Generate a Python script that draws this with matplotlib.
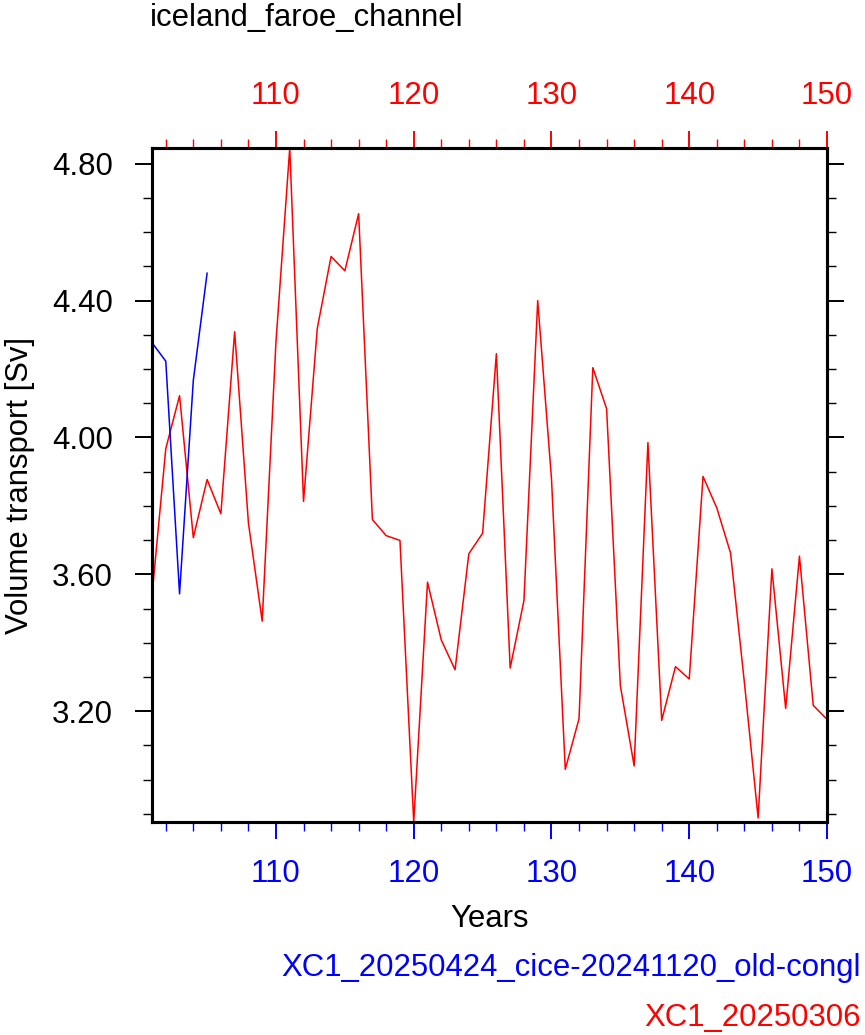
import numpy as np
from matplotlib import pyplot as plt
from matplotlib.ticker import MultipleLocator, FormatStrFormatter

plt.rcParams['font.family'] = ['Liberation Sans', 'DejaVu Sans']

# data
years = np.arange(101, 151)
red_vals = [3.538, 3.967, 4.122, 3.707, 3.877, 3.777, 4.309, 3.750, 3.463, 4.280,
            4.846, 3.813, 4.319, 4.529, 4.487, 4.654, 3.760, 3.713, 3.699, 2.876,
            3.577, 3.408, 3.321, 3.660, 3.720, 4.245, 3.326, 3.523, 4.400, 3.879,
            3.030, 3.178, 4.204, 4.084, 3.274, 3.040, 3.985, 3.173, 3.330, 3.294,
            3.886, 3.794, 3.662, 3.285, 2.888, 3.616, 3.208, 3.653, 3.217, 3.176]
blue_years = [101, 102, 103, 104, 105]
blue_vals = [4.277, 4.223, 3.543, 4.167, 4.480]

title = 'iceland_faroe_channel'
ylabel = 'Volume transport [Sv]'
xlabel = 'Years'
blue_name = 'XC1_20250424_cice-20241120_old-congl'
red_name = 'XC1_20250306'

W, H = 865, 1035
fig = plt.figure(figsize=(W / 100, H / 100), dpi=100)

# axes box in pixels: left 152, right 827, top 148, bottom 822
ax = fig.add_axes([152 / W, 1 - 822 / H, (827 - 152) / W, (822 - 148) / H])
ax.plot(years, red_vals, color='#ff0000', lw=1.1, zorder=2)
ax.plot(blue_years, blue_vals, color='#0000ff', lw=1.1, zorder=3)

ax.set_xlim(101, 150)
all_vals = red_vals + blue_vals
ax.set_ylim(min(all_vals), max(all_vals))

for s in ax.spines.values():
    s.set_linewidth(2.2)
    s.set_color('black')

# y axis, ticks out on both sides
ax.yaxis.set_major_locator(MultipleLocator(0.4))
ax.yaxis.set_minor_locator(MultipleLocator(0.1))
ax.yaxis.set_major_formatter(FormatStrFormatter('%.2f'))
ax.tick_params(axis='y', which='both', direction='out', left=True, right=True,
               labelright=False, colors='black', labelsize=22.5)
ax.tick_params(axis='y', which='major', length=12, width=1.4, pad=16)
ax.tick_params(axis='y', which='minor', length=6.5, width=1.0)

# bottom x axis (blue)
ax.xaxis.set_major_locator(MultipleLocator(10))
ax.xaxis.set_minor_locator(MultipleLocator(2))
ax.tick_params(axis='x', which='both', direction='out', top=False, bottom=True,
               color='#0000ff', labelcolor='#0000ff', labelsize=22.5)
ax.tick_params(axis='x', which='major', length=12, width=1.4, pad=15)
ax.tick_params(axis='x', which='minor', length=6.5, width=1.0)

# top x axis (red)
ax2 = ax.twiny()
ax2.set_xlim(101, 150)
ax2.xaxis.set_major_locator(MultipleLocator(10))
ax2.xaxis.set_minor_locator(MultipleLocator(2))
ax2.tick_params(axis='x', which='both', direction='out', top=True, bottom=False,
                color='#ff0000', labelcolor='#ff0000', labelsize=22.5)
ax2.tick_params(axis='x', which='major', length=12, width=1.4, pad=15)
ax2.tick_params(axis='x', which='minor', length=6.5, width=1.0)
for s in ax2.spines.values():
    s.set_linewidth(2.2)
    s.set_color('black')

# texts
fig.text(150 / W, 1 - 18 / H, title, ha='left', va='center', fontsize=22.4)
fig.text(20 / W, 1 - 485 / H, ylabel, ha='center', va='center', rotation=90, fontsize=22.4)
fig.text(489.5 / W, 1 - 919 / H, xlabel, ha='center', va='center', fontsize=22.4)
fig.text(861 / W, 1 - 968 / H, blue_name, ha='right', va='center', fontsize=22.4, color='#0000ff')
fig.text(861 / W, 1 - 1018 / H, red_name, ha='right', va='center', fontsize=22.4, color='#ff0000')

fig.savefig('out.png', dpi=100)
plt.close(fig)
